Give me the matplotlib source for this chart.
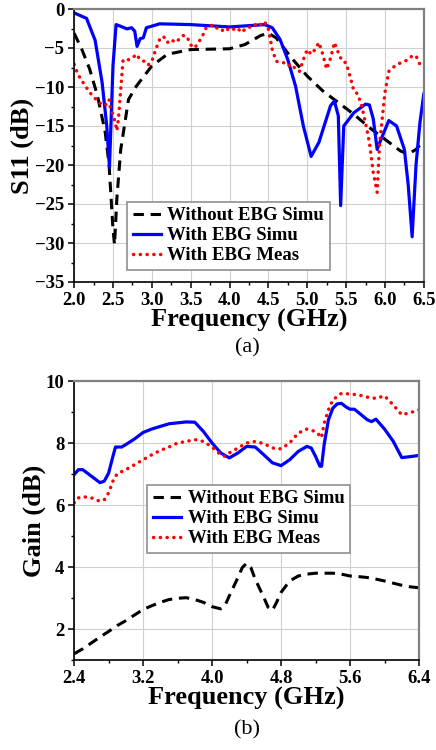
import numpy as np
import matplotlib.pyplot as plt
from matplotlib.ticker import MultipleLocator

plt.rcParams['font.family'] = 'Liberation Serif'
plt.rcParams['font.weight'] = 'bold'

# %% (a) S11 data
f_wo_s11 = [2.0, 2.1, 2.2, 2.3, 2.4, 2.45, 2.5, 2.52, 2.55, 2.6, 2.7, 2.8, 3.0, 3.2, 3.5,
            4.0, 4.2, 4.4, 4.5, 4.6, 4.8, 5.0, 5.2, 5.4, 5.6, 5.8, 6.0, 6.2, 6.3, 6.4, 6.5]
s11_wo = [-3.1, -5.2, -7.7, -11.1, -15.8, -20.0, -28.2, -30.2, -24.3, -18.0, -11.6, -9.9, -7.3,
          -5.8, -5.2, -5.1, -4.55, -3.4, -3.1, -3.7, -6.3, -8.6, -10.5, -12.0, -13.5, -15.2,
          -16.7, -18.2, -18.6, -18.0, -16.9]

f_ebg_s11 = [2.0, 2.16, 2.27, 2.36, 2.42, 2.455, 2.5, 2.54, 2.57, 2.68, 2.74, 2.78, 2.81, 2.85,
             2.89, 2.93, 3.0, 3.1, 3.5, 4.0, 4.3, 4.45, 4.55, 4.65, 4.75, 4.85, 4.95, 5.05,
             5.15, 5.3, 5.35, 5.4, 5.43, 5.47, 5.6, 5.75, 5.8, 5.85, 5.9, 5.95, 6.05, 6.15,
             6.25, 6.3, 6.35, 6.4, 6.45, 6.5]
s11_ebg = [-0.5, -1.2, -4.0, -9.4, -15.0, -20.3, -7.3, -2.0, -2.1, -2.55, -2.4, -2.85, -4.8,
           -3.8, -3.7, -2.4, -2.2, -1.9, -2.0, -2.3, -2.1, -2.0, -2.4, -3.9, -6.5, -9.9, -15.0,
           -18.9, -17.1, -12.4, -11.8, -13.7, -25.2, -15.0, -13.3, -12.2, -12.3, -14.1, -18.0,
           -16.7, -14.3, -15.0, -18.0, -22.6, -29.2, -20.0, -14.6, -10.9]

f_meas_s11 = [2.0, 2.05, 2.1, 2.2, 2.3, 2.35, 2.4, 2.45, 2.47, 2.5, 2.53, 2.55, 2.57, 2.6, 2.63,
              2.7, 2.75, 2.8, 2.85, 2.9, 2.95, 3.0, 3.05, 3.1, 3.15, 3.2, 3.25, 3.3, 3.35, 3.4,
              3.45, 3.5, 3.55, 3.6, 3.65, 3.7, 3.75, 3.8, 3.85, 3.9, 3.95, 4.0, 4.05, 4.1, 4.15,
              4.2, 4.25, 4.3, 4.35, 4.4, 4.45, 4.5, 4.55, 4.6, 4.7, 4.75, 4.8, 4.85, 4.9, 4.95,
              5.0, 5.05, 5.1, 5.15, 5.2, 5.25, 5.3, 5.35, 5.4, 5.45, 5.5, 5.55, 5.6, 5.65, 5.7,
              5.75, 5.8, 5.85, 5.9, 5.93, 6.0, 6.05, 6.1, 6.2, 6.3, 6.35, 6.4, 6.45, 6.5]
s11_meas = [-7.1, -8.4, -9.2, -10.7, -11.8, -12.2, -12.4, -11.6, -12.9, -13.5, -14.6, -15.6,
            -14.1, -10.3, -6.5, -6.5, -6.3, -5.8, -6.5, -6.7, -7.2, -6.7, -5.2, -3.9, -3.5,
            -4.3, -3.9, -4.3, -3.9, -3.4, -3.5, -4.6, -5.0, -4.3, -3.5, -2.4, -2.2, -2.0, -2.6,
            -2.8, -2.4, -2.8, -2.6, -2.4, -3.0, -2.6, -2.3, -2.4, -1.8, -2.0, -1.6, -2.6, -5.2,
            -6.7, -6.9, -7.3, -7.1, -7.7, -8.0, -6.5, -5.2, -5.8, -5.2, -4.3, -5.8, -7.7, -6.3,
            -4.3, -5.6, -6.7, -6.9, -8.6, -10.5, -10.9, -12.4, -14.6, -17.1, -21.0, -23.5,
            -17.4, -10.7, -8.0, -7.5, -6.9, -6.5, -6.0, -6.0, -7.1, -7.3]

# %% (b) Gain data
f_wo_g = [2.4, 2.5, 2.6, 2.7, 2.8, 2.9, 3.0, 3.1, 3.2, 3.3, 3.4, 3.5, 3.6, 3.7, 3.8, 3.9, 4.0,
          4.1, 4.15, 4.2, 4.3, 4.35, 4.4, 4.45, 4.5, 4.6, 4.65, 4.7, 4.75, 4.8, 4.9, 5.0, 5.1,
          5.2, 5.3, 5.4, 5.5, 5.6, 5.7, 5.8, 5.9, 6.0, 6.1, 6.2, 6.3, 6.4]
g_wo = [1.2, 1.36, 1.55, 1.74, 1.92, 2.11, 2.27, 2.45, 2.63, 2.75, 2.86, 2.95, 2.99, 3.01,
        2.95, 2.86, 2.72, 2.65, 2.76, 3.07, 3.66, 3.98, 4.12, 3.98, 3.61, 3.02, 2.7, 2.6, 2.87,
        3.18, 3.55, 3.71, 3.77, 3.8, 3.8, 3.8, 3.77, 3.71, 3.69, 3.66, 3.61, 3.55, 3.48, 3.41,
        3.36, 3.33]

f_ebg_g = [2.4, 2.45, 2.5, 2.6, 2.7, 2.75, 2.8, 2.85, 2.88, 2.95, 3.0, 3.1, 3.2, 3.3, 3.5, 3.7,
           3.8, 3.9, 4.0, 4.1, 4.2, 4.3, 4.4, 4.5, 4.6, 4.7, 4.8, 4.9, 5.0, 5.1, 5.15, 5.2,
           5.25, 5.27, 5.3, 5.35, 5.4, 5.45, 5.5, 5.55, 5.6, 5.65, 5.7, 5.8, 5.85, 5.9, 6.0,
           6.1, 6.2, 6.3, 6.4]
g_ebg = [6.98, 7.14, 7.14, 6.93, 6.72, 6.77, 7.03, 7.57, 7.87, 7.87, 7.95, 8.13, 8.34, 8.45,
         8.62, 8.68, 8.67, 8.37, 8.0, 7.68, 7.52, 7.68, 7.89, 7.87, 7.62, 7.36, 7.27, 7.46,
         7.73, 7.89, 7.84, 7.57, 7.25, 7.25, 7.95, 8.75, 9.12, 9.26, 9.28, 9.17, 9.09, 9.09,
         8.98, 8.75, 8.69, 8.77, 8.45, 8.06, 7.53, 7.56, 7.6]

f_meas_g = [2.4, 2.45, 2.5, 2.6, 2.7, 2.75, 2.8, 2.85, 2.9, 3.0, 3.1, 3.2, 3.3, 3.4, 3.5, 3.6,
            3.7, 3.8, 3.9, 4.0, 4.1, 4.15, 4.2, 4.3, 4.4, 4.5, 4.6, 4.7, 4.8, 4.9, 5.0, 5.1,
            5.2, 5.25, 5.27, 5.3, 5.35, 5.4, 5.5, 5.6, 5.7, 5.8, 5.9, 6.0, 6.1, 6.2, 6.3, 6.4]
g_meas = [6.07, 6.23, 6.27, 6.23, 6.12, 6.17, 6.39, 6.77, 7.01, 7.14, 7.30, 7.46, 7.62, 7.76,
          7.87, 8.0, 8.05, 8.11, 8.05, 7.87, 7.62, 7.57, 7.68, 7.84, 8.0, 8.05, 7.98, 7.84,
          7.81, 8.0, 8.32, 8.45, 8.37, 8.24, 8.17, 8.64, 9.07, 9.39, 9.6, 9.58, 9.55, 9.48,
          9.44, 9.52, 9.23, 8.91, 8.98, 9.07]

labels = ['Without EBG Simu', 'With EBG Simu', 'With EBG Meas']

fig = plt.figure(figsize=(4.36, 7.5), dpi=100)
ax1 = fig.add_axes([0.170, 0.624, 0.802, 0.364])
ax2 = fig.add_axes([0.170, 0.120, 0.791, 0.372])


def style(ax):
    ax.grid(True, which='major', color='#d0d0d0', lw=0.8)
    ax.set_axisbelow(True)
    for s in ['top', 'right']:
        ax.spines[s].set_color('#808080')
        ax.spines[s].set_linewidth(1.6)
    for s in ['left', 'bottom']:
        ax.spines[s].set_linewidth(1.2)
    ax.tick_params(which='major', direction='out', length=4, width=1.1, labelsize=13.5, pad=3)
    ax.tick_params(which='minor', direction='out', length=2.5, width=1.0)
    ax.tick_params(top=False, right=False)
    for t in ax.get_xticklabels() + ax.get_yticklabels():
        t.set_fontweight('bold')


def draw(ax, xs, ys):
    ax.plot(xs[0], ys[0], color='black', lw=2.2, ls=(0, (3.4, 2.2)), label=labels[0])
    ax.plot(xs[1], ys[1], color='#0000ff', lw=2.3, label=labels[1])
    ax.plot(xs[2], ys[2], color='#ff0000', lw=2.5, ls=(0, (0.05, 1.9)),
            dash_capstyle='round', label=labels[2])


def legend(ax, anchor):
    leg = ax.legend(loc='lower left', bbox_to_anchor=anchor, fontsize=13.5,
                    handlelength=1.5, handletextpad=0.35, labelspacing=0.15, borderpad=0.3,
                    borderaxespad=0, fancybox=False, edgecolor='#909090', framealpha=1)
    leg.get_frame().set_linewidth(1.2)


# %% Plot (a)
draw(ax1, [f_wo_s11, f_ebg_s11, f_meas_s11], [s11_wo, s11_ebg, s11_meas])
ax1.set_xlim(2.0, 6.5)
ax1.set_ylim(-35, 0)
ax1.xaxis.set_major_locator(MultipleLocator(0.5))
ax1.xaxis.set_minor_locator(MultipleLocator(0.25))
ax1.yaxis.set_major_locator(MultipleLocator(5))
ax1.yaxis.set_minor_locator(MultipleLocator(2.5))
ax1.xaxis.set_major_formatter(lambda v, p: f'{v:.1f}')
ax1.set_xlabel('Frequency (GHz)', fontsize=19, fontweight='bold', labelpad=0)
ax1.set_ylabel('S11 (dB)', fontsize=19, fontweight='bold', labelpad=1)
style(ax1)
legend(ax1, (0.151, 0.044))
fig.text(0.567, 0.536, '(a)', ha='center', va='center', fontsize=16, fontweight='normal')

# %% Plot (b)
draw(ax2, [f_wo_g, f_ebg_g, f_meas_g], [g_wo, g_ebg, g_meas])
ax2.set_xlim(2.4, 6.4)
ax2.set_ylim(1, 10)
ax2.xaxis.set_major_locator(MultipleLocator(0.8))
ax2.xaxis.set_minor_locator(MultipleLocator(0.4))
ax2.yaxis.set_major_locator(MultipleLocator(2))
ax2.yaxis.set_minor_locator(MultipleLocator(1))
ax2.xaxis.set_major_formatter(lambda v, p: f'{v:.1f}')
ax2.set_xlabel('Frequency (GHz)', fontsize=19, fontweight='bold', labelpad=0)
ax2.set_ylabel('Gain (dB)', fontsize=19, fontweight='bold', labelpad=0)
style(ax2)
legend(ax2, (0.212, 0.384))
fig.text(0.567, 0.027, '(b)', ha='center', va='center', fontsize=16, fontweight='normal')

fig.savefig('out.png', dpi=100)
